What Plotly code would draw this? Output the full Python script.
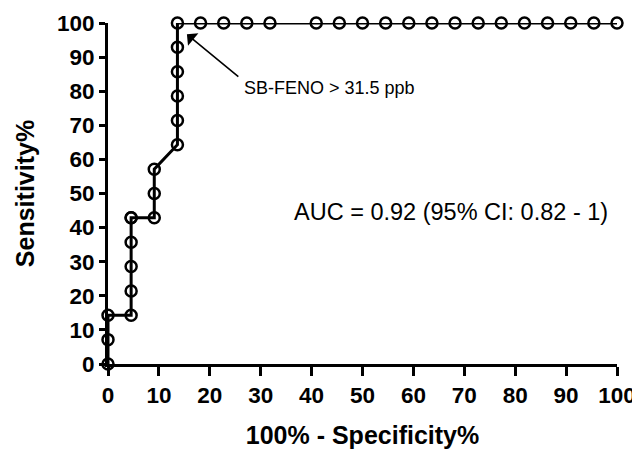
import plotly.graph_objects as go

specificity_pct = [0, 0, 0, 4.545, 4.545, 4.545, 4.545, 4.545, 4.545, 9.091, 9.091, 9.091,
                   13.64, 13.64, 13.64, 13.64, 13.64, 13.64,
                   18.18, 22.73, 27.27, 31.82, 40.91, 45.45, 50.0, 54.55, 59.09, 63.64,
                   68.18, 72.73, 77.27, 81.82, 86.36, 90.91, 95.45, 100.0]
sensitivity_pct = [0, 7.143, 14.29, 14.29, 21.43, 28.57, 35.71, 42.86, 42.86, 42.86, 50.0, 57.14,
                   64.29, 71.43, 78.57, 85.71, 92.86, 100,
                   100, 100, 100, 100, 100, 100, 100, 100, 100, 100,
                   100, 100, 100, 100, 100, 100, 100, 100]
tick_vals = [0, 10, 20, 30, 40, 50, 60, 70, 80, 90, 100]
x_title = "100% - Specificity%"
y_title = "Sensitivity%"
cutoff_label = "SB-FENO > 31.5 ppb"
auc_label = "AUC = 0.92 (95% CI: 0.82 - 1)"

fig = go.Figure()
fig.add_trace(go.Scatter(
    x=specificity_pct, y=sensitivity_pct, mode="lines+markers",
    line=dict(color="black", width=3),
    marker=dict(symbol="circle-open", size=11, color="black", line=dict(width=2.5)),
    cliponaxis=False, showlegend=False,
))

font = "Liberation Sans, Arial, sans-serif"
axis_common = dict(
    range=[0, 100], tickvals=tick_vals, showgrid=False, zeroline=False,
    showline=True, linecolor="black", linewidth=3, ticks="outside",
    tickcolor="black", tickwidth=3, automargin=False,
    tickfont=dict(family=font, size=22.5, color="black", weight="bold"),
)
fig.update_xaxes(**axis_common, ticklen=9,
                 title=dict(text=x_title, standoff=20,
                            font=dict(family=font, size=25, color="black", weight="bold")))
fig.update_yaxes(**axis_common, ticklen=6,
                 title=dict(text=y_title, standoff=16,
                            font=dict(family=font, size=25, color="black", weight="bold")))

fig.add_annotation(x=15.5, y=96.7, ax=25.9, ay=83.9, axref="x", ayref="y",
                   text="", showarrow=True, arrowhead=1, arrowsize=1.7,
                   arrowwidth=1.6, arrowcolor="black")
fig.add_annotation(x=26.3, y=80.9, text=cutoff_label, showarrow=False,
                   xanchor="left", yanchor="middle",
                   font=dict(family=font, size=18, color="black"))
fig.add_annotation(x=36.2, y=44.6, text=auc_label, showarrow=False,
                   xanchor="left", yanchor="middle",
                   font=dict(family=font, size=23.5, color="black"))

fig.update_layout(
    width=640, height=451, paper_bgcolor="white", plot_bgcolor="white",
    margin=dict(l=100, r=31, t=15, b=95, autoexpand=False),
)
fig.write_html("out.html")
